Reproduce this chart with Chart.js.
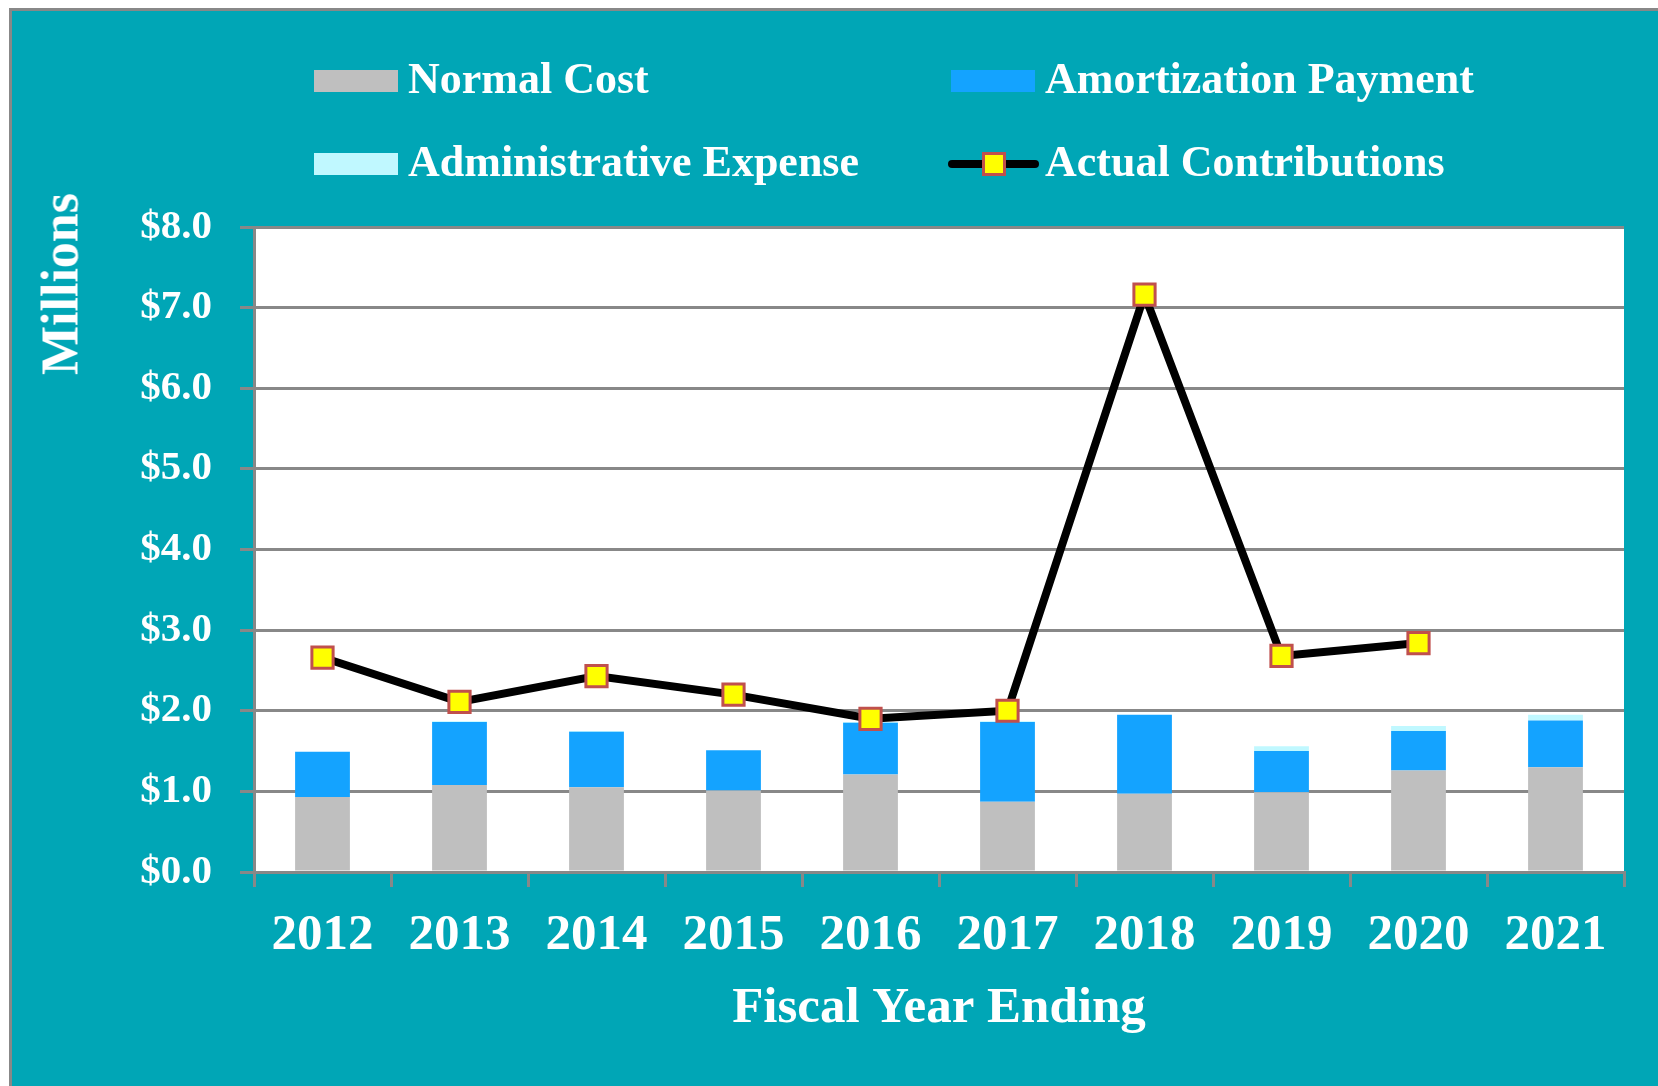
<!DOCTYPE html>
<html>
<head>
<meta charset="utf-8">
<script src="https://cdn.jsdelivr.net/npm/chart.js@4.4.1/dist/chart.umd.min.js"></script>
<style>
  html, body { margin: 0; padding: 0; background: #fff; }
  #frame {
    position: absolute; left: 9px; top: 8px; width: 1649px; height: 1078px;
    box-sizing: border-box; background: #00A6B6;
    border-top: 3px solid #888; border-left: 3px solid #888;
  }
  #chart { position: absolute; left: 0; top: 0; }
  .serif { font-family: "Liberation Serif", "Times New Roman", serif; font-weight: bold; color: #fff; }
  #ytitle {
    position: absolute; left: 60px; top: 284px; font-size: 52px; white-space: nowrap;
    transform: translate(-50%, -50%) rotate(-90deg);
  }
  .leg { position: absolute; font-size: 44px; white-space: nowrap; line-height: 1; }
  .sw { position: absolute; }
</style>
</head>
<body>
<div id="frame"></div>
<canvas id="chart" width="1658" height="1086"></canvas>
<div id="ytitle" class="serif">Millions</div>
<div id="legend"></div>
<script>
const years = ['2012', '2013', '2014', '2015', '2016', '2017', '2018', '2019', '2020', '2021'];
const normalCost = [0.93, 1.08, 1.05, 1.01, 1.21, 0.87, 0.97, 0.99, 1.26, 1.30];
const amortization = [0.56, 0.78, 0.69, 0.50, 0.64, 0.99, 0.98, 0.51, 0.49, 0.58];
const adminExpense = [0, 0.01, 0.01, 0, 0.01, 0.01, 0, 0.06, 0.06, 0.07];
const actualContrib = [2.66, 2.11, 2.43, 2.20, 1.90, 2.00, 7.16, 2.68, 2.84, null];
const yTicks = [0, 1, 2, 3, 4, 5, 6, 7, 8];

const GRID = '#888888';
const serif = '"Liberation Serif", "Times New Roman", serif';

const plotBg = {
  id: 'plotBg',
  beforeDraw(chart) {
    const { ctx, chartArea: a } = chart;
    ctx.save();
    ctx.fillStyle = '#fff';
    ctx.fillRect(a.left, a.top, a.right - a.left, a.bottom - a.top);
    ctx.restore();
  }
};

const datasets = [
  { type: 'line', label: 'Actual Contributions', data: actualContrib, stack: 'line', order: 0,
    borderColor: '#000', borderWidth: 8, pointStyle: 'rect', pointRadius: 15, pointHoverRadius: 15,
    pointBackgroundColor: '#FFFF00', pointBorderColor: '#C0504D', pointBorderWidth: 3,
    tension: 0, spanGaps: false },
  { type: 'bar', label: 'Normal Cost', data: normalCost, stack: 'cost', order: 1,
    backgroundColor: '#BFBFBF', barPercentage: 0.8, categoryPercentage: 0.5 },
  { type: 'bar', label: 'Amortization Payment', data: amortization, stack: 'cost', order: 1,
    backgroundColor: '#14A3FF', barPercentage: 0.8, categoryPercentage: 0.5 },
  { type: 'bar', label: 'Administrative Expense', data: adminExpense, stack: 'cost', order: 1,
    backgroundColor: '#C0F8FF', barPercentage: 0.8, categoryPercentage: 0.5 }
];

new Chart(document.getElementById('chart'), {
  data: { labels: years, datasets: datasets },
  options: {
    responsive: false,
    animation: false,
    layout: { padding: { left: 0, top: 227, right: 34, bottom: 47 } },
    plugins: { legend: { display: false }, tooltip: { enabled: false } },
    scales: {
      x: {
        stacked: true,
        offset: true,
        afterFit: (s) => { s.height = 167; },
        grid: { display: true, drawOnChartArea: false, offset: true, color: GRID, lineWidth: 3, tickLength: 15, tickColor: GRID },
        border: { display: true, color: GRID, width: 3 },
        ticks: { color: '#fff', padding: 18, font: { family: serif, size: 51, weight: 'bold' } },
        title: { display: true, text: 'Fiscal Year Ending', color: '#fff', padding: 0,
                 font: { family: serif, size: 51, weight: 'bold' } }
      },
      y: {
        stacked: true,
        min: 0, max: 8,
        afterFit: (s) => { s.width = 254; },
        afterBuildTicks: (s) => { s.ticks = yTicks.map(v => ({ value: v })); },
        grid: { color: GRID, lineWidth: 3, tickLength: 14, tickColor: GRID },
        border: { display: true, color: GRID, width: 3 },
        ticks: { color: '#fff', padding: 28, font: { family: serif, size: 41, weight: 'bold' },
                 callback: (v) => '$' + Number(v).toFixed(1) }
      }
    }
  },
  plugins: [plotBg]
});

// legend in two columns, built from the dataset definitions
const legendSlots = [
  { label: 'Normal Cost', sx: 314, cy: 81 },
  { label: 'Amortization Payment', sx: 951, cy: 81 },
  { label: 'Administrative Expense', sx: 314, cy: 164 },
  { label: 'Actual Contributions', sx: 951, cy: 164 }
];
const legendEl = document.getElementById('legend');
legendSlots.forEach(slot => {
  const ds = datasets.find(d => d.label === slot.label);
  let html;
  if (ds.type === 'bar') {
    html = `<div class="sw" style="left:${slot.sx}px;top:${slot.cy - 11}px;width:84px;height:22px;background:${ds.backgroundColor}"></div>`;
  } else {
    html = `<div class="sw" style="left:${slot.sx - 3}px;top:${slot.cy - 4}px;width:91px;height:8px;border-radius:4px;background:${ds.borderColor}"></div>` +
           `<div class="sw" style="left:${slot.sx + 31}px;top:${slot.cy - 12}px;width:18px;height:18px;background:${ds.pointBackgroundColor};border:3px solid ${ds.pointBorderColor}"></div>`;
  }
  html += `<div class="leg serif" style="left:${slot.sx + 94}px;top:${slot.cy - 24}px">${ds.label}</div>`;
  legendEl.insertAdjacentHTML('beforeend', html);
});
</script>
</body>
</html>
